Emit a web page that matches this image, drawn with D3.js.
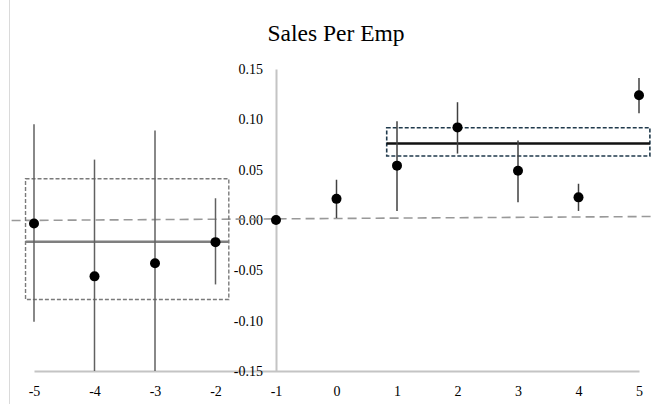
<!DOCTYPE html>
<html>
<head>
<meta charset="utf-8">
<script src="https://cdn.jsdelivr.net/npm/d3@7"></script>
<style>
  html, body { margin: 0; padding: 0; background: #ffffff; }
  svg { display: block; }
  text { font-family: "Times New Roman", "Liberation Serif", serif; fill: #000; }
</style>
</head>
<body>
<svg id="chart" width="655" height="404"></svg>
<script>
// Event-time coefficients with 95% confidence bounds
const eventTime = [-5, -4, -3, -2, -1, 0, 1, 2, 3, 4, 5];
const coef      = [-0.0035, -0.056, -0.043, -0.022, 0, 0.021, 0.054, 0.092, 0.049, 0.0225, 0.124];
const ciHigh    = [0.095, 0.060, 0.089, 0.0216, null, 0.040, 0.098, 0.117, 0.079, 0.036, 0.141];
const ciLow     = [-0.101, -0.172, -0.175, -0.064, null, 0.002, 0.009, 0.066, 0.0176, 0.009, 0.106];

// Pre- and post-period averages with their bands
const preBand  = { x0: -5.14, x1: -1.78, low: -0.079, high: 0.041, mean: -0.0216 };
const postBand = { x0: 0.83, x1: 5.18, low: 0.0636, high: 0.0917, mean: 0.076 };

// Zero reference line
const zeroLine = [{ x: -5.37, y: -0.0005 }, { x: 5.27, y: 0.0035 }];

const xTicks = [-5, -4, -3, -2, -1, 0, 1, 2, 3, 4, 5];
const yTicks = [-0.15, -0.10, -0.05, 0.00, 0.05, 0.10, 0.15];
const title = "Sales Per Emp";

const svg = d3.select("#chart");

const x = d3.scaleLinear().domain([-5, 5]).range([34, 639]);
const y = d3.scaleLinear().domain([-0.15, 0.15]).range([371, 69]).clamp(true);

// faint outer frame edge
svg.append("line")
  .attr("x1", 9.5).attr("x2", 9.5).attr("y1", 0).attr("y2", 404)
  .attr("stroke", "#dadada").attr("stroke-width", 1);

// title
svg.append("text")
  .attr("x", 336).attr("y", 41)
  .attr("text-anchor", "middle")
  .style("font-size", "23.5px")
  .text(title);

// x axis along the bottom of the value range
const xAxis = d3.axisBottom(x).tickValues(xTicks).tickSize(0).tickPadding(15)
  .tickFormat(d => d < 0 ? "-" + Math.abs(d) : String(d));
const gx = svg.append("g").attr("transform", `translate(0,${y(-0.15)})`).call(xAxis);
gx.select(".domain").attr("stroke", "#c4c4c4").attr("stroke-width", 2);
gx.selectAll("text").style("font-size", "14px").style("font-family", "'Times New Roman','Liberation Serif',serif");

// y axis crossing at event time -1
const yAxis = d3.axisLeft(y).tickValues(yTicks).tickSize(0).tickPadding(13)
  .tickFormat(d => (d < 0 ? "-" : "") + Math.abs(d).toFixed(2));
const gy = svg.append("g").attr("transform", `translate(${x(-1)},0)`).call(yAxis);
gy.select(".domain").attr("stroke", "#c4c4c4").attr("stroke-width", 2);
gy.selectAll("text").style("font-size", "14px").style("font-family", "'Times New Roman','Liberation Serif',serif");

// dashed zero line
svg.append("line")
  .attr("x1", x(zeroLine[0].x)).attr("y1", y(zeroLine[0].y))
  .attr("x2", x(zeroLine[1].x)).attr("y2", y(zeroLine[1].y))
  .attr("stroke", "#999999").attr("stroke-width", 1.6)
  .attr("stroke-dasharray", "9,5");

// pre-period band and mean
svg.append("rect")
  .attr("x", x(preBand.x0)).attr("y", y(preBand.high))
  .attr("width", x(preBand.x1) - x(preBand.x0))
  .attr("height", y(preBand.low) - y(preBand.high))
  .attr("fill", "none").attr("stroke", "#7a7a7a").attr("stroke-width", 1.4)
  .attr("stroke-dasharray", "4,2");
svg.append("line")
  .attr("x1", x(preBand.x0)).attr("x2", x(preBand.x1))
  .attr("y1", y(preBand.mean)).attr("y2", y(preBand.mean))
  .attr("stroke", "#7f7f7f").attr("stroke-width", 2.5);

// post-period band and mean
svg.append("rect")
  .attr("x", x(postBand.x0)).attr("y", y(postBand.high))
  .attr("width", x(postBand.x1) - x(postBand.x0))
  .attr("height", y(postBand.low) - y(postBand.high))
  .attr("fill", "none").attr("stroke", "#203a4c").attr("stroke-width", 1.6)
  .attr("stroke-dasharray", "4,2");
svg.append("line")
  .attr("x1", x(postBand.x0)).attr("x2", x(postBand.x1))
  .attr("y1", y(postBand.mean)).attr("y2", y(postBand.mean))
  .attr("stroke", "#111111").attr("stroke-width", 2.5);

// confidence intervals
const rows = eventTime.map((t, i) => ({ t, c: coef[i], lo: ciLow[i], hi: ciHigh[i] }));
svg.append("g").selectAll("line")
  .data(rows.filter(d => d.lo !== null))
  .join("line")
  .attr("x1", d => x(d.t)).attr("x2", d => x(d.t))
  .attr("y1", d => y(d.hi)).attr("y2", d => y(d.lo))
  .attr("stroke", d => d.t < -1 ? "#606060" : "#404040")
  .attr("stroke-width", 1.5);

// point estimates
svg.append("g").selectAll("circle")
  .data(rows)
  .join("circle")
  .attr("cx", d => x(d.t)).attr("cy", d => y(d.c))
  .attr("r", 5)
  .attr("fill", "#000");
</script>
</body>
</html>
